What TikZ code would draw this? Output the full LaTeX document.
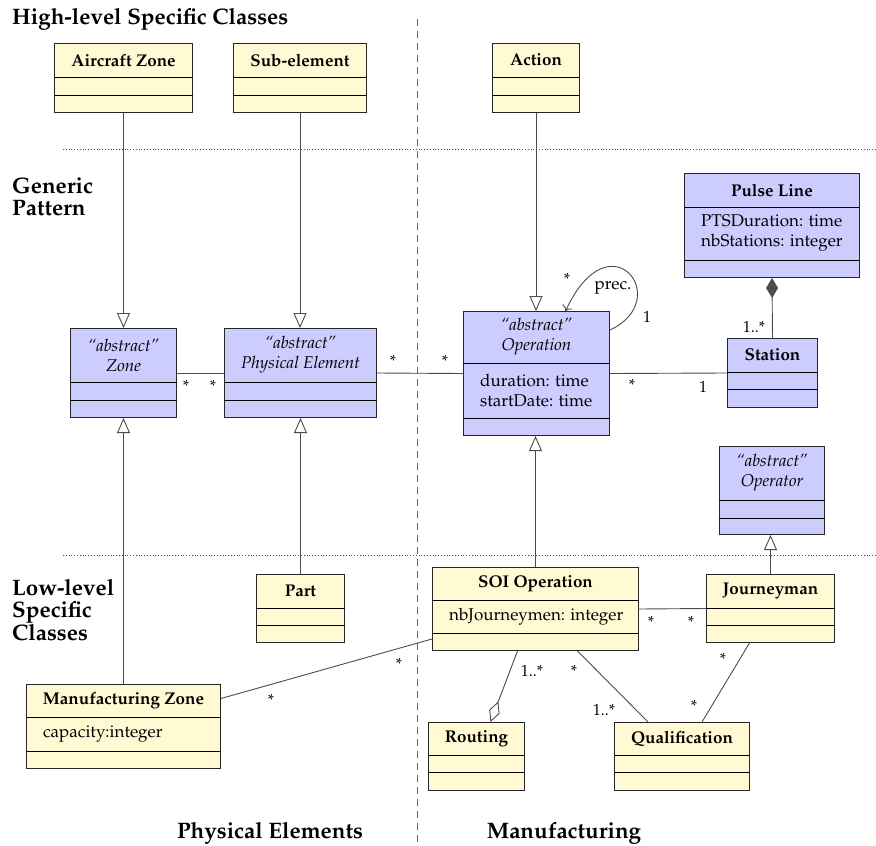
\documentclass[tikz,border=0pt]{standalone}
\usepackage[T1]{fontenc}
\usepackage{mathpazo}
\usetikzlibrary{arrows.meta}

\definecolor{classyellow}{RGB}{255,250,212}
\definecolor{classblue}{RGB}{204,204,255}

\tikzset{
  yellowclass/.style={draw=black!85, fill=classyellow, line width=1pt, inner sep=0pt},
  blueclass/.style={yellowclass, fill=classblue},
  assoc/.style={draw=black!70, line width=0.9pt},
  inherit/.style={assoc, -{Triangle[open, length=15pt, width=13pt]}},
  compos/.style={assoc, {Diamond[length=20pt, width=12pt]}-},
  aggreg/.style={assoc, {Diamond[open, length=22pt, width=11pt]}-},
  mult/.style={font=\fontsize{16}{18}\selectfont, inner sep=0pt},
  section/.style={font=\fontsize{22.4}{21.7}\selectfont\bfseries, inner sep=0pt, align=left},
}

% class box: [style]{name}{top left}{width}{title h}{attr h}{op h}{title}{attributes}
\newcommand{\umlclass}[9][yellowclass]{%
  \node[#1, minimum width=#4pt, minimum height={(#5+#6+#7)*1pt}, anchor=north west] (#2) at (#3) {};
  \draw[line width=1pt] ([yshift=-#5pt]#2.north west) -- ([yshift=-#5pt]#2.north east);
  \draw[line width=1pt] ([yshift=-#5pt-#6pt]#2.north west) -- ([yshift=-#5pt-#6pt]#2.north east);
  \node[align=center] (#2-t) at ([yshift=-#5pt/2]#2.north) {#8};
  \node[anchor=west, align=left, inner sep=0pt] (#2-a) at ([xshift=17pt, yshift=-#5pt-#6pt/2]#2.north west) {#9};
}

\begin{document}
\begin{tikzpicture}[x=1pt, y=-1pt, font=\fontsize{17}{20}\selectfont]
    \useasboundingbox (0,0) rectangle (876,846);

    % separators
    \draw[black!60, line width=0.9pt, dash pattern=on 7pt off 5pt] (417,19) -- (417,846);
    \draw[black!70, line width=0.8pt, dotted] (63,149) -- (876,149);
    \draw[black!70, line width=0.8pt, dotted] (63,555) -- (876,555);

    \node[section, anchor=base west] (title) at (12,24) {High-level Specific Classes};
    \node[section, anchor=north west] (generic) at (12,178) {Generic\\Pattern};
    \node[section, anchor=north west] (lowlevel) at (12,579) {Low-level\\Specific\\Classes};
    \node[section, anchor=base] (physical) at (270,838) {Physical Elements};
    \node[section, anchor=base] (manuf) at (564,838) {Manufacturing};

    % high-level
    \umlclass{aircraft}{54,43}{138}{34}{18}{17}{\textbf{Aircraft Zone}}{}
    \umlclass{subel}{233,43}{133}{34}{18}{17}{\textbf{Sub-element}}{}
    \umlclass{action}{492,43}{87}{34}{18}{17}{\textbf{Action}}{}

    % generic
    \umlclass[blueclass]{zone}{70,328}{106}{54}{18}{17}{\textit{``abstract''}\\\textit{Zone}}{}
    \umlclass[blueclass]{pe}{224,328}{152}{54}{18}{17}{\textit{``abstract''}\\\textit{Physical Element}}{}
    \umlclass[blueclass]{op}{463,311}{146}{52}{55}{17}{\textit{``abstract''}\\\textit{Operation}}{duration: time\\startDate: time}
    \umlclass[blueclass]{pulse}{684,173}{175}{34}{53}{17}{\textbf{Pulse Line}}{PTSDuration: time\\nbStations: integer}
    \umlclass[blueclass]{station}{727,338}{90}{34}{17}{18}{\textbf{Station}}{}
    \umlclass[blueclass]{operator}{719,446}{105}{54}{18}{16}{\textit{``abstract''}\\\textit{Operator}}{}

    % low-level
    \umlclass{part}{256,574}{88}{34}{17}{17}{\textbf{Part}}{}
    \umlclass{soi}{432,567}{206}{33}{33}{17}{\textbf{SOI Operation}}{nbJourneymen: integer}
    \umlclass{jman}{706,574}{128}{34}{17}{17}{\textbf{Journeyman}}{}
    \umlclass{mz}{26,684}{194}{33}{34}{17}{\textbf{Manufacturing Zone}}{capacity:integer}
    \umlclass{routing}{428,722}{96}{33}{17}{18}{\textbf{Routing}}{}
    \umlclass{qual}{614,722}{135}{33}{17}{18}{\textbf{Qualification}}{}

    % generalisations
    \draw[inherit] (aircraft.south) -- (aircraft.south |- zone.north);
    \draw[inherit] (subel.south) -- (subel.south |- pe.north);
    \draw[inherit] (action.south) -- (action.south |- op.north);
    \draw[inherit] (mz.north) -- (mz.north |- zone.south);
    \draw[inherit] (part.north) -- (part.north |- pe.south);
    \draw[inherit] (soi.north) -- (soi.north |- op.south);
    \draw[inherit] (jman.north) -- (jman.north |- operator.south);

    % associations
    \draw[assoc] (zone.east) -- (pe.west);
    \draw[assoc] (pe.east) -- (op.west);
    \draw[assoc] (op.east) -- (station.west);
    \draw[compos] (pulse.south) -- (station.north);
    \draw[assoc, -{To[length=5pt, width=11pt]}] ([yshift=-19pt]op.north east) .. controls (675,300) and (610,215) .. ([xshift=29pt]op.north);
    \draw[assoc] (soi.east) -- (jman.west);
    \draw[assoc] ([yshift=28pt]mz.east) -- ([yshift=-30pt]soi.west);
    \draw[aggreg] ([xshift=14pt]routing.north) -- ([xshift=-18pt]soi.south);
    \draw[assoc] ([xshift=42pt]soi.south) -- ([xshift=-34pt]qual.north);
    \draw[assoc] ([xshift=-21pt]jman.south) -- ([xshift=20pt]qual.north);

    % multiplicities
    \node[mult] (m1) at (186,386) {*};
    \node[mult] (m2) at (213,386) {*};
    \node[mult] (m3) at (393,361) {*};
    \node[mult] (m4) at (445,361) {*};
    \node[mult] (m5) at (632,385) {*};
    \node[mult] (m6) at (703,387) {1};
    \node[mult] (m7) at (567,279) {*};
    \node[inner sep=0pt] (prec) at (613,288) {prec.};
    \node[mult] (m8) at (647,317) {1};
    \node[mult] (m9) at (754,327) {1..*};
    \node[mult] (m10) at (651,622) {*};
    \node[mult] (m11) at (691,622) {*};
    \node[mult] (m12) at (271,700) {*};
    \node[mult] (m13) at (399,664) {*};
    \node[mult] (m14) at (532,671) {1..*};
    \node[mult] (m15) at (574,671) {*};
    \node[mult] (m16) at (604,710) {1..*};
    \node[mult] (m17) at (723,659) {*};
    \node[mult] (m18) at (694,706) {*};

\end{tikzpicture}
\end{document}
